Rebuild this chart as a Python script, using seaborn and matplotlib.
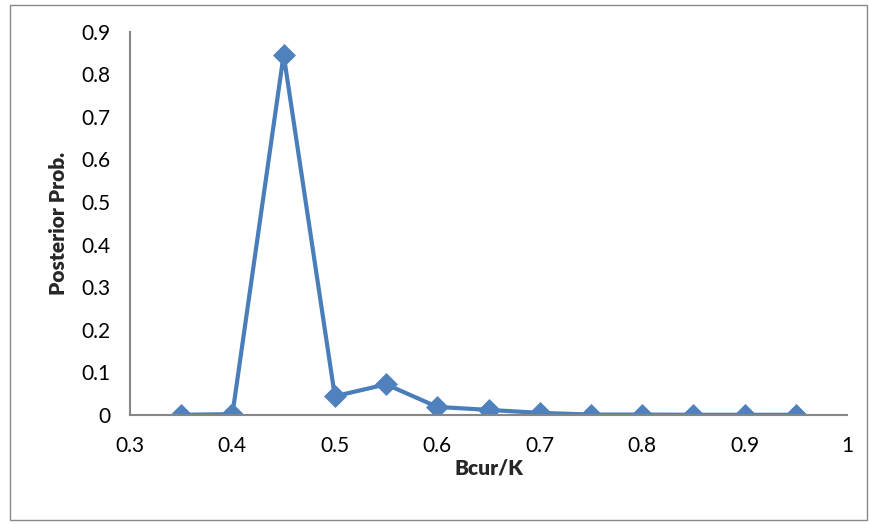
import matplotlib
matplotlib.use("Agg")
import matplotlib.pyplot as plt
import seaborn as sns
import pandas as pd
from matplotlib.patches import Rectangle

bcur_k = [0.35, 0.40, 0.45, 0.50, 0.55, 0.60, 0.65, 0.70, 0.75, 0.80, 0.85, 0.90, 0.95]
posterior = [0.0005, 0.002, 0.846, 0.044, 0.072, 0.019, 0.012, 0.005, 0.001, 0.001, 0.0005, 0.0005, 0.0005]
x_ticks = [0.3, 0.4, 0.5, 0.6, 0.7, 0.8, 0.9, 1.0]
x_labels = ["0.3", "0.4", "0.5", "0.6", "0.7", "0.8", "0.9", "1"]
y_ticks = [0, 0.1, 0.2, 0.3, 0.4, 0.5, 0.6, 0.7, 0.8, 0.9]
y_labels = ["0", "0.1", "0.2", "0.3", "0.4", "0.5", "0.6", "0.7", "0.8", "0.9"]

sns.set_style("white")
plt.rcParams['font.family'] = ['Lato', 'DejaVu Sans']

df = pd.DataFrame({"Bcur/K": bcur_k, "Posterior Prob.": posterior})

W, H = 870, 525
fig = plt.figure(figsize=(W / 100, H / 100), dpi=100)
ax = fig.add_axes([130 / W, (H - 415) / H, (847 - 130) / W, (415 - 31.7) / H])

sns.lineplot(data=df, x="Bcur/K", y="Posterior Prob.", ax=ax, color="#4A7EBB",
             linewidth=3.0, marker="D", markersize=11.5, markerfacecolor="#4F81BD",
             markeredgecolor="#4F81BD", markeredgewidth=0.5)

ax.set_xlim(0.3, 1.0)
ax.set_ylim(0, 0.9)
ax.set_xticks(x_ticks)
ax.set_xticklabels(x_labels)
ax.set_yticks(y_ticks)
ax.set_yticklabels(y_labels)
ax.tick_params(axis="both", direction="out", length=7, width=1.2, color="#868686",
               labelsize=15, labelcolor="black")
ax.tick_params(axis="x", pad=8)
ax.tick_params(axis="y", pad=7)
for s in ["top", "right"]:
    ax.spines[s].set_visible(False)
for s in ["left", "bottom"]:
    ax.spines[s].set_color("#868686")
    ax.spines[s].set_linewidth(1.5)
ax.grid(False)

ax.set_xlabel("Bcur/K", fontsize=15, fontweight="heavy", labelpad=2)
ax.set_ylabel("Posterior Prob.", fontsize=15, fontweight="heavy", labelpad=10)

fig.patches.append(Rectangle((10 / W, 5 / H), (867 - 10) / W, (520 - 5) / H,
                             transform=fig.transFigure, fill=False,
                             edgecolor="#898989", linewidth=1.0))

fig.savefig("out.png", dpi=100)
